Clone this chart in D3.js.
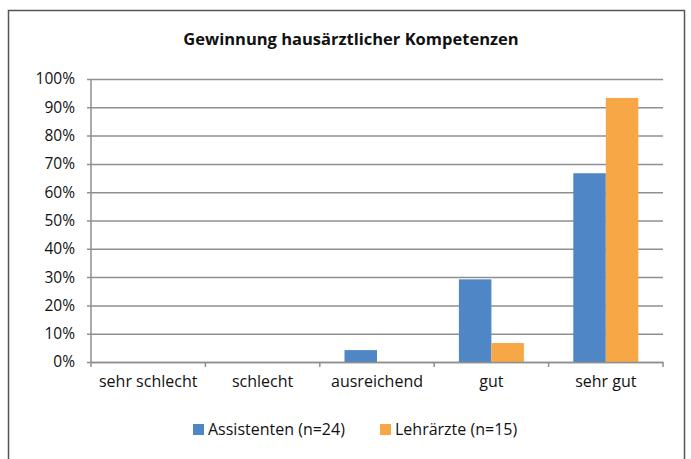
<!DOCTYPE html>
<html>
<head>
<meta charset="utf-8">
<script src="https://cdn.jsdelivr.net/npm/d3@7"></script>
<style>
body { margin: 0; background: #fff; }
text { font-family: "Open Sans", "DejaVu Sans", sans-serif; fill: #111; }
</style>
</head>
<body>
<div id="chart"></div>
<script>
const width = 691;
const height = 459;

const title = "Gewinnung hausärztlicher Kompetenzen";
const categories = ["sehr schlecht", "schlecht", "ausreichend", "gut", "sehr gut"];
const series_names = ["Assistenten (n=24)", "Lehrärzte (n=15)"];
const assistenten = [0, 0, 4.2, 29.2, 66.7];
const lehraerzte = [0, 0, 0, 6.7, 93.3];
const y_ticks = [0, 10, 20, 30, 40, 50, 60, 70, 80, 90, 100];
const colors = ["#4f86c6", "#f7a746"];

const plot = { left: 91, right: 663, top: 79, bottom: 362 };
const grid_color = "#8f8f8f";

let svg = d3.select("#chart").append("svg")
	.attr("width", width)
	.attr("height", height);

// outer frame (bottom edge runs off the picture)
svg.append("rect")
	.attr("x", 8.5).attr("y", 10.5)
	.attr("width", 676).attr("height", 480)
	.attr("fill", "none")
	.attr("stroke", "#555")
	.attr("stroke-width", 1.5);

svg.append("text")
	.attr("x", 351).attr("y", 45)
	.attr("text-anchor", "middle")
	.style("font-size", "16.5px")
	.style("font-weight", "bold")
	.text(title);

let x = d3.scaleBand()
	.domain(categories)
	.range([plot.left, plot.right]);

let x_inner = d3.scaleBand()
	.domain([0, 1])
	.range([0, 65]);

let y = d3.scaleLinear()
	.domain([0, 100])
	.range([plot.bottom, plot.top]);

// gridlines + y labels
let y_axis = d3.axisLeft(y)
	.tickValues(y_ticks)
	.tickSize(-(plot.right - plot.left))
	.tickPadding(16)
	.tickFormat(d => d + "%");
let gy = svg.append("g")
	.attr("transform", "translate(" + plot.left + ",0)")
	.call(y_axis);
gy.select(".domain").remove();
gy.selectAll(".tick line")
	.attr("x1", -4)
	.attr("stroke", grid_color)
	.attr("stroke-width", 1.5);
gy.selectAll(".tick text")
	.attr("fill", "#111")
	.style("font-size", "15.5px")
	.style("font-family", "'Open Sans', sans-serif");

// vertical axis line
svg.append("line")
	.attr("x1", plot.left).attr("x2", plot.left)
	.attr("y1", plot.top).attr("y2", plot.bottom)
	.attr("stroke", grid_color)
	.attr("stroke-width", 1.5);

// bars
let data = [assistenten, lehraerzte];
data.forEach(function(vals, s) {
	svg.append("g").selectAll("rect")
		.data(vals)
		.enter().append("rect")
		.attr("x", (d, i) => x(categories[i]) + (x.bandwidth() - 65) / 2 + x_inner(s))
		.attr("y", d => y(d))
		.attr("width", x_inner.bandwidth())
		.attr("height", d => plot.bottom - y(d))
		.attr("fill", colors[s]);
});

// category axis
let x_axis = d3.axisBottom(x).tickSize(0).tickPadding(14);
let gx = svg.append("g")
	.attr("transform", "translate(0," + plot.bottom + ")")
	.call(x_axis);
gx.select(".domain")
	.attr("stroke", grid_color)
	.attr("stroke-width", 1.5);
gx.selectAll(".tick text")
	.attr("fill", "#111")
	.style("font-size", "16px")
	.style("font-family", "'Open Sans', sans-serif");
// category separators
svg.append("g").selectAll("line")
	.data(categories.concat(["end"]))
	.enter().append("line")
	.attr("x1", (d, i) => plot.left + i * x.bandwidth())
	.attr("x2", (d, i) => plot.left + i * x.bandwidth())
	.attr("y1", plot.bottom)
	.attr("y2", plot.bottom + 5)
	.attr("stroke", grid_color)
	.attr("stroke-width", 1.5);

// legend
let legend_x = [193, 380];
let lg = svg.append("g");
series_names.forEach(function(name, s) {
	lg.append("rect")
		.attr("x", legend_x[s]).attr("y", 424)
		.attr("width", 11).attr("height", 11)
		.attr("fill", colors[s]);
	lg.append("text")
		.attr("x", legend_x[s] + 15).attr("y", 435)
		.style("font-size", "16px")
		.text(name);
});
</script>
</body>
</html>
